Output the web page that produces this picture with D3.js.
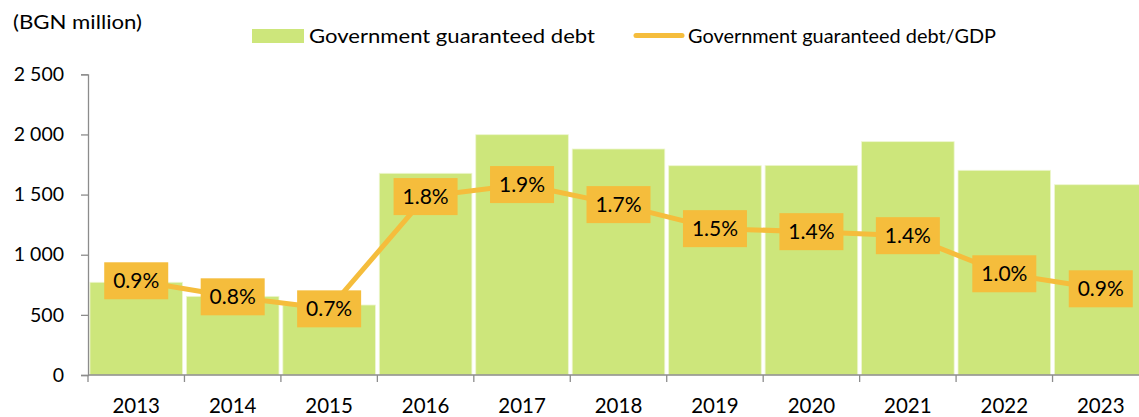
<!DOCTYPE html>
<html>
<head>
<meta charset="utf-8">
<script src="https://cdn.jsdelivr.net/npm/d3@7"></script>
<style>
  html, body { margin: 0; padding: 0; background: #fff; }
  svg { display: block; font-family: Lato, "Open Sans", sans-serif; }
</style>
</head>
<body>
<svg id="chart" width="1139" height="417"></svg>
<script>
const years = ["2013","2014","2015","2016","2017","2018","2019","2020","2021","2022","2023"];
const debtValues = [771, 654, 582, 1677, 1998, 1879, 1740, 1743, 1940, 1702, 1582];
const debtToGdp = [0.94, 0.78, 0.66, 1.78, 1.90, 1.70, 1.46, 1.43, 1.39, 1.01, 0.86];
const yTicks = [0, 500, 1000, 1500, 2000, 2500];
const seriesNames = ["Government guaranteed debt", "Government guaranteed debt/GDP"];
const unitLabel = "(BGN million)";

(function () {
const barColor = "#cde67b";
const lineColor = "#f5bd3c";
const axisColor = "#8c8c8c";

const svg = d3.select("#chart");
const pLeft = 88, pRight = 1149, pTop = 74.3, pBottom = 375;

const x = d3.scaleBand().domain(years).range([pLeft, pRight]).paddingInner(0.04).paddingOuter(0.02);
const y = d3.scaleLinear().domain([0, 2500]).range([pBottom, pTop]);
const y2 = d3.scaleLinear().domain([0, 3]).range([pBottom, pTop]);
const step = x.step();
const cx = d => x(d) + x.bandwidth() / 2;

// bars
svg.append("g").selectAll("rect").data(years).join("rect")
  .attr("x", d => x(d))
  .attr("y", (d, i) => y(debtValues[i]))
  .attr("width", x.bandwidth())
  .attr("height", (d, i) => y(0) - y(debtValues[i]))
  .attr("fill", barColor)
  .attr("stroke", "#eef6d0")
  .attr("stroke-width", 0.8);

// y axis
const yAxis = svg.append("g").attr("transform", `translate(${pLeft},0)`)
  .call(d3.axisLeft(y).tickValues(yTicks).tickSize(7).tickPadding(17)
    .tickFormat(d => d3.format(",")(d).replace(/,/g, " ")));
yAxis.select(".domain").attr("stroke", axisColor).attr("stroke-width", 1.3);
yAxis.selectAll(".tick line").attr("stroke", axisColor).attr("stroke-width", 1.3);
yAxis.selectAll(".tick text").attr("font-size", 19.5).attr("fill", "#000")
  .attr("font-family", "Lato, sans-serif");

// x axis line and boundary ticks
const xg = svg.append("g");
xg.append("line").attr("x1", pLeft).attr("x2", pRight).attr("y1", pBottom).attr("y2", pBottom)
  .attr("stroke", axisColor).attr("stroke-width", 1.3);
const boundaries = years.map((d, i) => x(d) - step * x.paddingInner() / 2);
boundaries[0] = pLeft;
xg.selectAll("line.tk").data(boundaries).join("line").attr("class", "tk")
  .attr("x1", d => d).attr("x2", d => d).attr("y1", pBottom).attr("y2", pBottom + 7)
  .attr("stroke", axisColor).attr("stroke-width", 1.3);
xg.selectAll("text").data(years).join("text")
  .attr("x", d => cx(d)).attr("y", 413)
  .attr("text-anchor", "middle").attr("font-size", 20.5).attr("fill", "#000")
  .text(d => d);

// line
const line = d3.line().x((d, i) => cx(years[i])).y(d => y2(d));
svg.append("path").datum(debtToGdp)
  .attr("d", line).attr("fill", "none")
  .attr("stroke", lineColor).attr("stroke-width", 5).attr("stroke-linejoin", "round");

// labels
const lbl = svg.append("g").selectAll("g").data(debtToGdp).join("g")
  .attr("transform", (d, i) => `translate(${cx(years[i])},${y2(d)})`);
lbl.append("rect").attr("x", -32).attr("y", -18.5).attr("width", 64).attr("height", 37)
  .attr("fill", lineColor);
lbl.append("text").attr("text-anchor", "middle").attr("y", 7.5)
  .attr("font-size", 21).attr("fill", "#000")
  .text(d => d3.format(".1f")(d) + "%");

// unit label
svg.append("text").attr("x", 13).attr("y", 29).attr("font-size", 20).attr("fill", "#000")
  .attr("textLength", 129).attr("lengthAdjust", "spacingAndGlyphs")
  .text(unitLabel);

// legend
const lg = svg.append("g");
lg.append("rect").attr("x", 252).attr("y", 29).attr("width", 52).attr("height", 14).attr("fill", barColor);
lg.append("text").attr("x", 309).attr("y", 43).attr("font-size", 19).attr("fill", "#000")
  .attr("textLength", 286).attr("lengthAdjust", "spacingAndGlyphs")
  .text(seriesNames[0]);
lg.append("line").attr("x1", 636).attr("x2", 682).attr("y1", 35.5).attr("y2", 35.5)
  .attr("stroke", lineColor).attr("stroke-width", 5).attr("stroke-linecap", "round");
lg.append("text").attr("x", 688).attr("y", 43).attr("font-size", 19).attr("fill", "#000")
  .attr("textLength", 308).attr("lengthAdjust", "spacingAndGlyphs")
  .text(seriesNames[1]);
})();
</script>
</body>
</html>
